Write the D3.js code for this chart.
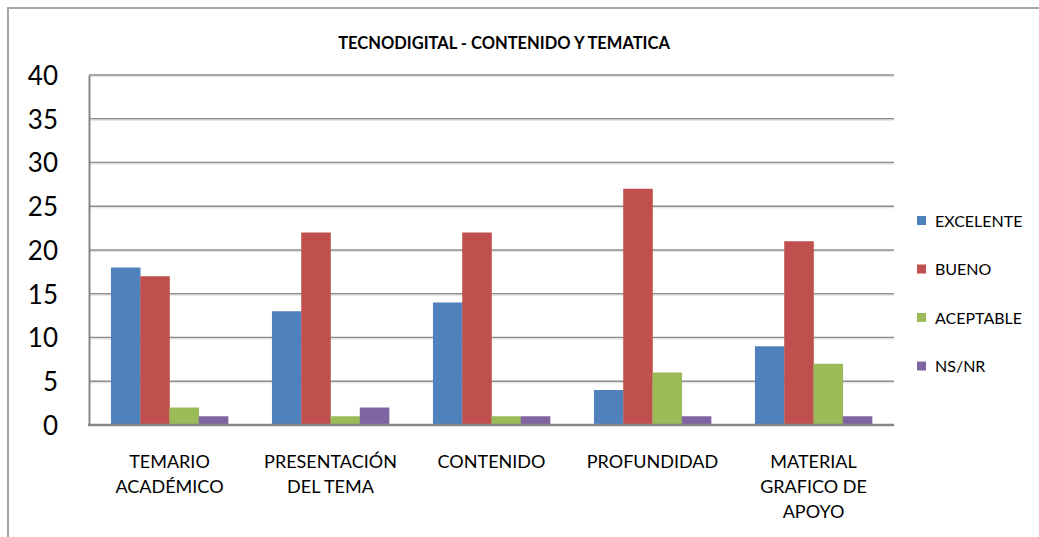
<!DOCTYPE html>
<html><head><meta charset="utf-8">
<script src="https://d3js.org/d3.v7.min.js"></script>
<style>body{margin:0;background:#fff}svg{display:block}</style>
</head><body><svg id="c" width="1039" height="537"></svg>
<script>
const categories = [["TEMARIO","ACADÉMICO"],["PRESENTACIÓN","DEL TEMA"],["CONTENIDO"],["PROFUNDIDAD"],["MATERIAL","GRAFICO DE","APOYO"]];
const seriesNames = ["EXCELENTE","BUENO","ACEPTABLE","NS/NR"];
const excelente = [18,13,14,4,9];
const bueno = [17,22,22,27,21];
const aceptable = [2,1,1,6,7];
const nsnr = [1,2,1,1,1];
const yTicks = [0,5,10,15,20,25,30,35,40];
const colors = ["#4F81BD","#C0504D","#9BBB59","#8064A2"];
const title = "TECNODIGITAL - CONTENIDO Y TEMATICA";

const series = [excelente,bueno,aceptable,nsnr];
const font = 'Lato,"Liberation Sans",sans-serif';
const svg = d3.select("#c");
const L=89,R=894,T=75,B=425;
const catKeys = categories.map((c,i)=>i);
const x = d3.scaleBand().domain(catKeys).range([L,R]).paddingInner(1.5/5.5).paddingOuter(0.75/5.5);
const x1 = d3.scaleBand().domain(d3.range(4)).range([0,x.bandwidth()]);
const y = d3.scaleLinear().domain([0,40]).range([B,T]);

// outer border
svg.append("path").attr("d",`M8,537V8H1039`).attr("fill","none").attr("stroke","#a6a6a6").attr("stroke-width",2);

// title
svg.append("text").attr("x",504).attr("y",49).attr("text-anchor","middle")
  .attr("font-family",font).attr("font-weight","bold").attr("font-size",16.5).attr("fill","#000").text(title);

// gridlines
svg.append("g").selectAll("line").data(yTicks.filter(d=>d>0)).join("line")
  .attr("x1",L).attr("x2",R).attr("y1",d=>y(d)).attr("y2",d=>y(d))
  .attr("stroke","#8c8c8c").attr("stroke-width",1.5);
svg.append("g").selectAll("line").data(yTicks.filter(d=>d>0)).join("line")
  .attr("x1",L).attr("x2",R).attr("y1",d=>y(d)+1.5).attr("y2",d=>y(d)+1.5)
  .attr("stroke","#e0e0e0").attr("stroke-width",1);

// bars
const g = svg.append("g");
series.forEach((s,si)=>{
  g.append("g").selectAll("rect").data(s).join("rect")
    .attr("x",(d,i)=>x(i)+x1(si)).attr("width",x1.bandwidth()+0.3)
    .attr("y",d=>y(d)).attr("height",d=>y(0)-y(d)).attr("fill",colors[si]);
});

// axes
const yAxis = svg.append("g").attr("transform",`translate(${L},0)`)
  .call(d3.axisLeft(y).tickValues(yTicks).tickSize(0).tickPadding(31));
yAxis.select(".domain").attr("stroke","#868686").attr("stroke-width",2);
yAxis.selectAll("text").attr("font-family",font).attr("font-size",26).attr("fill","#000").attr("dy","0.36em");

svg.append("line").attr("x1",L-1).attr("x2",R).attr("y1",B).attr("y2",B).attr("stroke","#868686").attr("stroke-width",2.5);

const xAxis = svg.append("g").attr("transform",`translate(0,${B})`)
  .call(d3.axisBottom(x).tickSize(0).tickFormat(""));
xAxis.select(".domain").remove();
xAxis.selectAll(".tick").each(function(d){
  const t = d3.select(this).append("text").attr("text-anchor","middle")
    .attr("font-family",font).attr("font-size",18).attr("fill","#000");
  categories[d].forEach((ln,k)=>t.append("tspan").attr("x",0).attr("y",43+k*25).text(ln));
});

// legend
const lg = svg.append("g").selectAll("g").data(seriesNames).join("g")
  .attr("transform",(d,i)=>`translate(917,${216+i*48.5})`);
lg.append("rect").attr("width",9).attr("height",9).attr("fill",(d,i)=>colors[i]);
lg.append("text").attr("x",18).attr("y",10.5).attr("font-family",font).attr("font-size",16).attr("fill","#000").text(d=>d);
</script></body></html>
